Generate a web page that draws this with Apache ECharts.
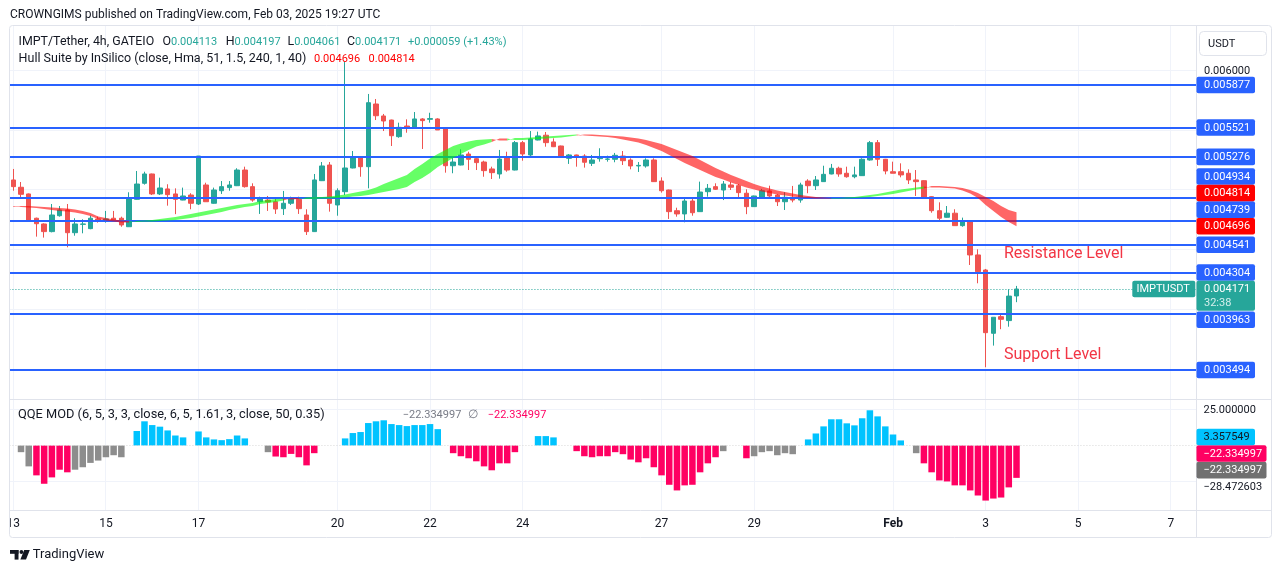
<!DOCTYPE html>
<html>
<head>
<meta charset="utf-8">
<script src="https://cdn.jsdelivr.net/npm/echarts@6.0.0/dist/echarts.min.js"></script>
<style>
  html, body { margin: 0; padding: 0; background: #fff; }
  #chart { width: 1281px; height: 573px; }
</style>
</head>
<body>
<div id="chart"></div>
<script>
// IMPT/Tether 4h candles (GATEIO), first candle Jan 13 2025 00:00 UTC
const startTime = Date.UTC(2025, 0, 13, 0, 0)

const opens = [
  0.005083, 0.005022, 0.004966, 0.004763, 0.004715, 0.004651, 0.004784, 0.004832, 0.004642, 0.004712,
  0.004676, 0.004757, 0.004742, 0.004763, 0.004763, 0.004692, 0.004921, 0.005055, 0.005133, 0.004966,
  0.005008, 0.004966, 0.004915, 0.004957, 0.004882, 0.005041, 0.004888, 0.004993, 0.005019, 0.005035,
  0.005166, 0.005027, 0.004901, 0.004915, 0.004901, 0.004843, 0.004888, 0.004921, 0.004790, 0.004651,
  0.005077, 0.005208, 0.004874, 0.004985, 0.005183, 0.005269, 0.005194, 0.005718, 0.005618, 0.005584,
  0.005445, 0.005534, 0.005515, 0.005593, 0.005590, 0.005593, 0.005515, 0.005202, 0.005208, 0.005300,
  0.005261, 0.005233, 0.005175, 0.005133, 0.005269, 0.005166, 0.005395, 0.005292, 0.005417, 0.005457,
  0.005401, 0.005367, 0.005264, 0.005292, 0.005283, 0.005222, 0.005261, 0.005256, 0.005256, 0.005283,
  0.005250, 0.005200, 0.005200, 0.005250, 0.005074, 0.004999, 0.004826, 0.004799, 0.004907, 0.004818,
  0.004985, 0.005027, 0.004999, 0.005041, 0.005035, 0.004972, 0.004860, 0.004938, 0.004991, 0.004957,
  0.004901, 0.004938, 0.004915, 0.005074, 0.005035, 0.005069, 0.005133, 0.005181, 0.005139, 0.005110,
  0.005119, 0.005250, 0.005395, 0.005256, 0.005152, 0.005152, 0.005139, 0.005083, 0.005077, 0.004943,
  0.004826, 0.004771, 0.004805, 0.004701, 0.004734, 0.004456, 0.004330, 0.003801, 0.003940, 0.003907,
  0.004113
]
const highs = [
  0.005175, 0.005066, 0.004970, 0.004768, 0.004720, 0.004882, 0.004865, 0.004882, 0.004763, 0.004754,
  0.004784, 0.004776, 0.004824, 0.004824, 0.004776, 0.004980, 0.005158, 0.005152, 0.005136, 0.005102,
  0.005047, 0.005013, 0.005019, 0.004972, 0.005283, 0.005060, 0.005019, 0.005074, 0.005074, 0.005181,
  0.005194, 0.005055, 0.004943, 0.004949, 0.004930, 0.004991, 0.004943, 0.004943, 0.004838, 0.005133,
  0.005233, 0.005233, 0.005013, 0.006069, 0.005325, 0.005272, 0.005802, 0.005760, 0.005635, 0.005587,
  0.005562, 0.005590, 0.005651, 0.005600, 0.005645, 0.005599, 0.005523, 0.005273, 0.005339, 0.005319,
  0.005283, 0.005244, 0.005194, 0.005334, 0.005319, 0.005409, 0.005409, 0.005492, 0.005487, 0.005484,
  0.005431, 0.005370, 0.005300, 0.005295, 0.005298, 0.005292, 0.005348, 0.005286, 0.005309, 0.005325,
  0.005264, 0.005233, 0.005264, 0.005264, 0.005105, 0.005002, 0.004851, 0.004938, 0.004938, 0.005069,
  0.005049, 0.005055, 0.005074, 0.005066, 0.005049, 0.005005, 0.004952, 0.005008, 0.005035, 0.004966,
  0.004980, 0.005033, 0.005060, 0.005089, 0.005116, 0.005202, 0.005217, 0.005194, 0.005194, 0.005194,
  0.005264, 0.005409, 0.005417, 0.005259, 0.005236, 0.005222, 0.005172, 0.005166, 0.005080, 0.004946,
  0.004896, 0.004865, 0.004838, 0.004768, 0.004737, 0.004503, 0.004339, 0.003935, 0.003968, 0.004169,
  0.004197
]
const lows = [
  0.004993, 0.004930, 0.004742, 0.004609, 0.004601, 0.004645, 0.004776, 0.004520, 0.004617, 0.004637,
  0.004671, 0.004726, 0.004726, 0.004734, 0.004692, 0.004690, 0.004918, 0.005044, 0.004957, 0.004957,
  0.004868, 0.004797, 0.004913, 0.004838, 0.004874, 0.004901, 0.004885, 0.004966, 0.004993, 0.005032,
  0.005019, 0.004901, 0.004799, 0.004824, 0.004799, 0.004790, 0.004874, 0.004799, 0.004623, 0.004648,
  0.005074, 0.004818, 0.004784, 0.004957, 0.005180, 0.005110, 0.005013, 0.005584, 0.005492, 0.005367,
  0.005436, 0.005478, 0.005512, 0.005342, 0.005562, 0.005501, 0.005144, 0.005139, 0.005205, 0.005166,
  0.005166, 0.005110, 0.005091, 0.005094, 0.005152, 0.005163, 0.005244, 0.005283, 0.005414, 0.005361,
  0.005358, 0.005270, 0.005217, 0.005194, 0.005186, 0.005200, 0.005236, 0.005236, 0.005231, 0.005208,
  0.005172, 0.005150, 0.005186, 0.005066, 0.004977, 0.004757, 0.004776, 0.004729, 0.004784, 0.004815,
  0.004943, 0.004999, 0.004915, 0.004999, 0.004935, 0.004797, 0.004857, 0.004924, 0.004938, 0.004865,
  0.004832, 0.004896, 0.004893, 0.004972, 0.004999, 0.005066, 0.005130, 0.005110, 0.005102, 0.005097,
  0.005116, 0.005244, 0.005200, 0.005130, 0.005139, 0.005105, 0.005049, 0.004949, 0.004924, 0.004809,
  0.004748, 0.004768, 0.004701, 0.004692, 0.004372, 0.004219, 0.003517, 0.003698, 0.003835, 0.003856,
  0.004061
]
const closes = [
  0.005027, 0.004963, 0.004748, 0.004717, 0.004651, 0.004790, 0.004832, 0.004642, 0.004715, 0.004715,
  0.004763, 0.004738, 0.004757, 0.004742, 0.004707, 0.004924, 0.005049, 0.005133, 0.004966, 0.005016,
  0.004960, 0.004921, 0.004949, 0.004888, 0.005283, 0.004901, 0.004999, 0.005027, 0.005041, 0.005166,
  0.005027, 0.004915, 0.004930, 0.004899, 0.004840, 0.004888, 0.004930, 0.004843, 0.004651, 0.005083,
  0.005200, 0.004888, 0.004993, 0.005183, 0.005269, 0.005194, 0.005729, 0.005620, 0.005576, 0.005453,
  0.005523, 0.005515, 0.005593, 0.005579, 0.005596, 0.005501, 0.005202, 0.005233, 0.005292, 0.005256,
  0.005228, 0.005161, 0.005144, 0.005258, 0.005166, 0.005395, 0.005300, 0.005426, 0.005451, 0.005395,
  0.005361, 0.005273, 0.005292, 0.005273, 0.005231, 0.005250, 0.005273, 0.005258, 0.005289, 0.005244,
  0.005200, 0.005205, 0.005250, 0.005069, 0.004993, 0.004818, 0.004799, 0.004907, 0.004809, 0.004982,
  0.005013, 0.005005, 0.005049, 0.005022, 0.004977, 0.004860, 0.004949, 0.004993, 0.004949, 0.004901,
  0.004938, 0.004915, 0.005041, 0.005035, 0.005083, 0.005130, 0.005181, 0.005133, 0.005110, 0.005125,
  0.005256, 0.005395, 0.005256, 0.005158, 0.005139, 0.005125, 0.005083, 0.005069, 0.004930, 0.004826,
  0.004763, 0.004805, 0.004701, 0.004734, 0.004456, 0.004316, 0.003806, 0.003935, 0.003918, 0.004112,
  0.004171
]

// Hull Suite (51, Hma): the hull line and its lagged copy, band between them
const hull = [
  0.004865, 0.004857, 0.004853, 0.004849, 0.004840, 0.004832, 0.004824, 0.004819, 0.004811, 0.004799,
  0.004782, 0.004757, 0.004744, 0.004736, 0.004728, 0.004728, 0.004740, 0.004744, 0.004748, 0.004757,
  0.004765, 0.004773, 0.004786, 0.004799, 0.004811, 0.004824, 0.004836, 0.004849, 0.004861, 0.004874,
  0.004882, 0.004891, 0.004907, 0.004916, 0.004924, 0.004928, 0.004920, 0.004924, 0.004937, 0.004941,
  0.004941, 0.004945, 0.004953, 0.004962, 0.004974, 0.004987, 0.004999, 0.005020, 0.005049, 0.005074,
  0.005100, 0.005125, 0.005175, 0.005217, 0.005262, 0.005300, 0.005334, 0.005367, 0.005388, 0.005405,
  0.005417, 0.005421, 0.005426, 0.005413, 0.005413, 0.005434, 0.005434, 0.005438, 0.005442, 0.005446,
  0.005451, 0.005455, 0.005459, 0.005463, 0.005455, 0.005451, 0.005446, 0.005442, 0.005434, 0.005421,
  0.005409, 0.005396, 0.005375, 0.005350, 0.005325, 0.005292, 0.005258, 0.005225, 0.005196, 0.005166,
  0.005137, 0.005108, 0.005087, 0.005062, 0.005041, 0.005020, 0.005003, 0.004987, 0.004974, 0.004962,
  0.004953, 0.004945, 0.004937, 0.004932, 0.004928, 0.004928, 0.004928, 0.004932, 0.004937, 0.004941,
  0.004949, 0.004957, 0.004966, 0.004978, 0.004991, 0.005003, 0.005012, 0.005020, 0.005028, 0.005020,
  0.005020, 0.005016, 0.005012, 0.004995, 0.004970, 0.004932, 0.004874, 0.004824, 0.004773, 0.004732,
  0.004696
]
const hullShift = [
  0.004857, 0.004865, 0.004865, 0.004861, 0.004857, 0.004853, 0.004849, 0.004845, 0.004836, 0.004824,
  0.004807, 0.004778, 0.004765, 0.004753, 0.004744, 0.004740, 0.004732, 0.004736, 0.004736, 0.004740,
  0.004744, 0.004748, 0.004757, 0.004765, 0.004778, 0.004790, 0.004803, 0.004815, 0.004832, 0.004845,
  0.004857, 0.004865, 0.004882, 0.004891, 0.004899, 0.004911, 0.004932, 0.004932, 0.004924, 0.004924,
  0.004928, 0.004928, 0.004932, 0.004937, 0.004945, 0.004949, 0.004957, 0.004970, 0.004982, 0.004995,
  0.005008, 0.005024, 0.005066, 0.005100, 0.005141, 0.005191, 0.005229, 0.005267, 0.005300, 0.005334,
  0.005363, 0.005380, 0.005400, 0.005430, 0.005430, 0.005417, 0.005417, 0.005421, 0.005426, 0.005430,
  0.005434, 0.005438, 0.005446, 0.005455, 0.005463, 0.005463, 0.005459, 0.005455, 0.005451, 0.005446,
  0.005438, 0.005430, 0.005417, 0.005400, 0.005384, 0.005359, 0.005334, 0.005309, 0.005283, 0.005250,
  0.005217, 0.005183, 0.005154, 0.005125, 0.005100, 0.005074, 0.005049, 0.005028, 0.005012, 0.004995,
  0.004982, 0.004970, 0.004957, 0.004949, 0.004941, 0.004937, 0.004932, 0.004928, 0.004928, 0.004932,
  0.004937, 0.004941, 0.004949, 0.004957, 0.004966, 0.004978, 0.004991, 0.005003, 0.005012, 0.005033,
  0.005033, 0.005028, 0.005024, 0.005016, 0.004999, 0.004974, 0.004941, 0.004907, 0.004865, 0.004832,
  0.004814
]

// QQE MOD histogram, and its trend state (1 up, -1 down, 0 neutral)
const qqe = [
  null, -4.6, -14.4, -20.6, -26.4, -22.0, -16.7, -18.5, -16.7, -15.0,
  -12.0, -10.4, -8.1, -6.7, -8.1, 0, 10.0, 16.7, 14.1, 13.0,
  10.4, 6.9, 5.6, 0, 9.7, 5.6, 4.2, 3.7, 4.4, 6.9,
  4.9, 0, 0, -4.6, -7.6, -8.1, -5.8, -8.1, -13.7, -5.3,
  0, 0, 0, 4.9, 8.6, 9.3, 15.5, 16.7, 17.4, 14.8,
  14.1, 13.4, 14.1, 14.1, 14.8, 11.3, 0, -5.3, -7.4, -8.8,
  -10.9, -14.4, -17.1, -12.3, -12.3, -4.6, 0, 0, 6.5, 6.5,
  5.6, 0, 0, -3.9, -7.4, -8.1, -7.4, -7.4, -4.6, -6.0,
  -9.7, -11.6, -8.8, -15.0, -20.6, -27.1, -31.0, -27.5, -27.1, -18.5,
  -12.3, -8.1, -3.9, 0, 0, -8.8, -7.4, -4.6, -3.9, -6.7,
  -5.3, -6.0, 0, 4.2, 8.3, 13.2, 18.1, 18.1, 15.3, 13.9,
  18.8, 24.3, 20.1, 13.2, 7.6, 3.5, 0, -5.3, -12.3, -18.5,
  -24.1, -24.8, -27.5, -27.5, -31.0, -34.5, -38.0, -36.6, -35.9, -28.9,
  -22.334997
]
const qqeTrend = [
  0, 0, 0, -1, -1, -1, -1, -1, 0, 0,
  0, 0, 0, 0, 0, 0, 1, 1, 1, 1,
  1, 1, 1, 0, 1, 1, 1, 1, 1, 1,
  1, 0, 0, 0, -1, -1, -1, -1, -1, -1,
  0, 0, 0, 1, 1, 1, 1, 1, 1, 1,
  1, 1, 1, 1, 1, 1, 0, -1, -1, -1,
  -1, -1, -1, -1, -1, -1, 0, 0, 1, 1,
  1, 0, 0, -1, -1, -1, -1, -1, -1, -1,
  -1, -1, -1, -1, -1, -1, -1, -1, -1, -1,
  -1, -1, 0, 0, 0, -1, 0, 0, 0, 0,
  0, 0, 0, 1, 1, 1, 1, 1, 1, 1,
  1, 1, 1, 1, 1, 1, 0, 0, -1, -1,
  -1, -1, -1, -1, -1, -1, -1, -1, -1, -1,
  -1
]
const qqeLine = 3.357549
const qqeGreyLast = -22.334997
const qqeLower = -28.472603

// horizontal support / resistance lines drawn on the chart
const levels = [0.005877, 0.005521, 0.005276, 0.004934, 0.004739, 0.004541, 0.004304, 0.003963, 0.003494]
const priceTicks = [0.0035, 0.004, 0.0045, 0.005, 0.0055, 0.006]
const qqeTicks = [25, -25]
const countdown = '32:38'
const dayTicks = ['01-13', '01-15', '01-17', '01-20', '01-22', '01-24', '01-27', '01-29', '02-01', '02-03', '02-05', '02-07']
const dayLabels = ['13', '15', '17', '20', '22', '24', '27', '29', 'Feb', '3', '5', '7']

const FONT = 'Roboto, sans-serif'
const UP = '#26a69a'
const DOWN = '#ef5350'
const LEVEL_BLUE = '#2962ff'
const GRID_COLOR = '#f0f3fa'
const BORDER = '#e0e3eb'
const TEXT = '#131722'

const CANDLE_STEP = 7.717
const SLOTS = 154
const GRID_LEFT = 9.44

const pad = n => String(n).padStart(2, '0')
const times = []
for (let k = 0; k < SLOTS; k++) {
  const d = new Date(startTime + k * 4 * 3600 * 1000)
  times.push(pad(d.getUTCMonth() + 1) + '-' + pad(d.getUTCDate()) + ' ' + pad(d.getUTCHours()))
}
const dayCats = dayTicks.map(t => t + ' 00')
const dayIdx = dayCats.map(c => times.indexOf(c))

const candles = opens.map((o, i) => [o, closes[i], lows[i], highs[i]])

// runs of the hull band with one colour each
const bandRuns = []
for (let i = 0; i < hull.length - 1; i++) {
  const up = hull[i + 1] >= hullShift[i + 1]
  const last = bandRuns[bandRuns.length - 1]
  if (last && last.up === up) {
    last.end = i + 1
  } else {
    bandRuns.push({ start: i, end: i + 1, up: up })
  }
}

const qqeColors = { '1': '#00c3ff', '-1': '#ff0062', '0': '#8d8d8d' }
const qqeBars = qqe.map((v, i) => v === null ? '-' : {
  value: v,
  itemStyle: { color: qqeColors[String(qqeTrend[i])] }
})

// full-width horizontal lines and full-height vertical lines, placed through the axes
// item: [kind, value, styleIndex]  kind 0 = horizontal at price value, 1 = vertical at category index
function ruleSeries (name, axisIndex, z, items, styles) {
  return {
    name: name,
    type: 'custom',
    xAxisIndex: axisIndex,
    yAxisIndex: axisIndex,
    z: z,
    silent: true,
    clip: false,
    data: items,
    encode: { x: -1, y: -1 },
    renderItem: (params, api) => {
      const cs = params.coordSys
      const st = styles[api.value(2)]
      const w = st.width
      const snap = p => (w % 2 ? Math.floor(p) + 0.5 : Math.round(p))
      let shape
      if (api.value(0) === 0) {
        const y = snap(api.coord([0, api.value(1)])[1])
        shape = { x1: cs.x, y1: y, x2: cs.x + cs.width, y2: y }
      } else {
        const x = snap(api.coord([api.value(1), 0])[0])
        shape = { x1: x, y1: cs.y, x2: x, y2: cs.y + cs.height }
      }
      return {
        type: 'line',
        shape: shape,
        style: { stroke: st.color, lineWidth: w, lineDash: st.dash || null }
      }
    }
  }
}
const gridRule = { color: GRID_COLOR, width: 1 }
const levelRule = { color: LEVEL_BLUE, width: 2 }
const lastRule = { color: UP, width: 1, dash: [1, 2] }
const zeroRule = { color: '#d8d8d8', width: 1, dash: [1, 2] }

const chart = echarts.init(document.getElementById('chart'))

chart.setOption({
  animation: false,
  backgroundColor: '#ffffff',
  grid: [
    { left: GRID_LEFT, top: 26, width: SLOTS * CANDLE_STEP, height: 373 },
    { left: GRID_LEFT, top: 400, width: SLOTS * CANDLE_STEP, height: 110 }
  ],
  xAxis: [
    {
      type: 'category',
      gridIndex: 0,
      data: times,
      boundaryGap: true,
      axisLine: { show: false },
      axisTick: { show: false },
      axisLabel: { show: false },
      splitLine: { show: false }
    },
    {
      type: 'category',
      gridIndex: 1,
      data: times,
      boundaryGap: true,
      axisLine: { show: false },
      axisTick: { show: false },
      splitLine: { show: false },
      axisLabel: {
        show: true,
        interval: (index, value) => dayCats.indexOf(value) >= 0,
        formatter: value => {
          const label = dayLabels[dayCats.indexOf(value)]
          return label === 'Feb' ? '{b|Feb}' : label
        },
        color: TEXT,
        fontSize: 12,
        fontFamily: FONT,
        margin: 8,
        rich: { b: { fontWeight: 'bold', fontSize: 12, fontFamily: FONT, color: TEXT } }
      }
    }
  ],
  yAxis: [
    { type: 'value', gridIndex: 0, min: 0.0032515, max: 0.0063703, show: false },
    { type: 'value', gridIndex: 1, min: -44.5, max: 31.4, show: false }
  ],
  series: [
    // light chart grid, under the candles
    ruleSeries('grid', 0, 0,
      dayIdx.map(i => [1, i, 0]).concat(priceTicks.map(v => [0, v, 0])), [gridRule]),
    {
      name: 'IMPTUSDT',
      type: 'candlestick',
      xAxisIndex: 0,
      yAxisIndex: 0,
      data: candles,
      barWidth: 5,
      z: 2,
      itemStyle: {
        color: UP,
        color0: DOWN,
        borderColor: UP,
        borderColor0: DOWN,
        borderWidth: 1
      }
    },
    // support / resistance lines and the last-price line
    ruleSeries('levels', 0, 3,
      levels.map(v => [0, v, 0]).concat([[0, closes[closes.length - 1], 1]]), [levelRule, lastRule]),
    {
      name: 'Hull Suite',
      type: 'custom',
      xAxisIndex: 0,
      yAxisIndex: 0,
      z: 4,
      clip: true,
      data: bandRuns.map(r => [r.start, hull[r.start]]),
      encode: { x: 0, y: 1 },
      renderItem: (params, api) => {
        const run = bandRuns[params.dataIndex]
        const points = []
        for (let i = run.start; i <= run.end; i++) points.push(api.coord([i, hull[i]]))
        for (let i = run.end; i >= run.start; i--) points.push(api.coord([i, hullShift[i]]))
        return {
          type: 'polygon',
          shape: { points: points },
          style: { fill: run.up ? 'rgba(0,255,0,0.6)' : 'rgba(255,0,0,0.6)' }
        }
      }
    },
    ruleSeries('qqe grid', 1, 0,
      dayIdx.map(i => [1, i, 0]).concat(qqeTicks.map(v => [0, v, 0])), [gridRule]),
    {
      name: 'QQE MOD',
      type: 'bar',
      xAxisIndex: 1,
      yAxisIndex: 1,
      data: qqeBars,
      barWidth: 6.5,
      z: 2
    },
    ruleSeries('qqe zero', 1, 3, [[0, 0, 0]], [zeroRule])
  ]
})

// ---- overlay: frame, legends, price-axis labels ----
const py = v => chart.convertToPixel({ yAxisIndex: 0 }, v)
const qy = v => chart.convertToPixel({ yAxisIndex: 1 }, v)
const fmt = v => (v < 0 ? '\u2212' : '') + Math.abs(v).toFixed(6)

const els = []
function text (x, y, str, color, size, extra) {
  els.push(Object.assign({
    type: 'text',
    z: 120,
    silent: true,
    style: {
      text: str,
      x: x,
      y: y,
      fill: color,
      font: (size || 12) + 'px ' + FONT,
      textAlign: 'left',
      textVerticalAlign: 'middle'
    }
  }, extra || {}))
}
function rect (x, y, w, h, fill, r, stroke, z) {
  els.push({
    type: 'rect',
    z: z || 110,
    silent: true,
    shape: { x: x, y: y, width: w, height: h, r: r || 0 },
    style: stroke ? { fill: fill, stroke: stroke, lineWidth: 1 } : { fill: fill }
  })
}
function line (x1, y1, x2, y2, color) {
  els.push({ type: 'line', z: 115, silent: true, shape: { x1: x1, y1: y1, x2: x2, y2: y2 }, style: { stroke: color, lineWidth: 1 } })
}

// covers outside the panes
rect(1197, 26, 74, 511, '#ffffff', 0, null, 100)
rect(0, 26, 10, 511, '#ffffff', 0, null, 100)
// frame and separators
rect(9.5, 25.5, 1262, 512, 'none', 3, BORDER, 115)
line(9.5, 399.5, 1271.5, 399.5, BORDER)
line(9.5, 510.5, 1271.5, 510.5, BORDER)
line(1196.5, 25.5, 1196.5, 537.5, BORDER)

// header
text(10, 15, 'CROWNGIMS published on TradingView.com, Feb 03, 2025 19:27 UTC', TEXT, 12)

// main pane legend
const n = closes.length - 1
const chg = closes[n] - closes[n - 1]
text(18.6, 42, 'IMPT/Tether, 4h, GATEIO', TEXT, 12.4)
const ohlc = [['O', opens[n], 162.5], ['H', highs[n], 225.7], ['L', lows[n], 287.5], ['C', closes[n], 347]]
ohlc.forEach(p => {
  els.push({
    type: 'text',
    z: 120,
    silent: true,
    style: {
      text: '{k|' + p[0] + '}{v|' + p[1].toFixed(6) + '}',
      x: p[2],
      y: 42,
      textVerticalAlign: 'middle',
      rich: {
        k: { fill: TEXT, font: '12.4px ' + FONT },
        v: { fill: UP, font: '11px ' + FONT }
      }
    }
  })
})
text(408, 42, '+' + chg.toFixed(6) + ' (+' + (chg / closes[n - 1] * 100).toFixed(2) + '%)', UP, 11)
text(18.6, 59, 'Hull Suite by InSilico (close, Hma, 51, 1.5, 240, 1, 40)', TEXT, 12.5)
text(314, 59, hull[n].toFixed(6), '#ff0000', 11)
text(368.6, 59, hullShift[n].toFixed(6), '#ff0000', 11)

// QQE legend
text(18, 415, 'QQE MOD (6, 5, 3, 3, close, 6, 5, 1.61, 3, close, 50, 0.35)', TEXT, 12.8)
text(402.7, 415, fmt(qqeGreyLast), '#787b86', 11)
text(468, 415, '\u2205', '#787b86', 12)
text(487.7, 415, fmt(qqe[n]), '#ff0062', 11)

// annotations
text(1004, 253.5, 'Resistance Level', '#f23645', 16)
text(1004, 354.5, 'Support Level', '#f23645', 16)

// USDT box
rect(1199.5, 31.5, 67, 24, '#ffffff', 4, BORDER, 120)
text(1208, 44, 'USDT', TEXT, 11, { z: 125 })

// price labels, stacked around the last-price label
const LH = 16.6
const lastY = py(closes[n])
const lastTop = lastY - LH / 2
const lastBottom = lastY + 22.4
const labels = levels.map(v => ({ v: v, bg: LEVEL_BLUE }))
  .concat([{ v: hull[n], bg: '#ff0000' }, { v: hullShift[n], bg: '#ff0000' }])
labels.forEach(l => { l.y0 = py(l.v) })
const above = labels.filter(l => l.y0 < lastY).sort((a, b) => b.y0 - a.y0)
const below = labels.filter(l => l.y0 >= lastY).sort((a, b) => a.y0 - b.y0)
let limit = lastTop
above.forEach(l => { l.y = Math.min(l.y0, limit - LH / 2); limit = l.y - LH / 2 })
limit = lastBottom
below.forEach(l => { l.y = Math.max(l.y0, limit + LH / 2); limit = l.y + LH / 2 })

labels.forEach(l => {
  rect(1196.5, l.y - LH / 2, 58.5, LH, l.bg, 2, null, 118)
  text(1204, l.y + 0.5, l.v.toFixed(6), '#ffffff', 11, { z: 125 })
})
// last price with countdown, and the symbol tag
rect(1196.5, lastTop, 58.5, 30, UP, 2, null, 118)
text(1204, lastY + 0.5, closes[n].toFixed(6), '#ffffff', 11, { z: 125 })
text(1204, lastY + 14, countdown, '#d4efec', 11, { z: 125 })
rect(1132.3, lastTop, 63, LH, UP, 2, null, 118)
text(1136.5, lastY + 0.5, 'IMPTUSDT', '#ffffff', 11, { z: 125 })

// price ticks that are not hidden by a label
priceTicks.forEach(t => {
  const y = py(t)
  const hidden = labels.some(l => Math.abs(l.y - y) < 14) || (y > lastTop - 7 && y < lastBottom + 7)
  if (!hidden) text(1204, y + 0.5, t.toFixed(6), TEXT, 11, { z: 125 })
})

// QQE axis labels, stacked from the bottom up
const qLabels = [
  { v: qqeLower, bg: null, fg: TEXT },
  { v: qqeGreyLast, bg: '#707070', fg: '#ffffff' },
  { v: qqe[n], bg: '#ff0062', fg: '#ffffff' },
  { v: qqeLine, bg: '#00c3ff', fg: TEXT }
]
let qLimit = Infinity
qLabels.forEach(l => {
  l.y = Math.min(qy(l.v), qLimit - LH)
  qLimit = l.y
  const s = fmt(l.v)
  if (l.bg) rect(1196.5, l.y - LH / 2, s.length > 8 ? 70 : 58.5, LH, l.bg, 2, null, 118)
  text(1203.5, l.y + 0.5, s, l.fg, 11, { z: 125 })
})
qqeTicks.forEach(t => {
  const y = qy(t)
  if (!qLabels.some(l => Math.abs(l.y - y) < 14)) text(1203.5, y + 1, t.toFixed(6), TEXT, 11, { z: 125 })
})

// TradingView logo
els.push({ type: 'rect', z: 120, silent: true, shape: { x: 10, y: 550, width: 8.5, height: 3.8 }, style: { fill: '#131722' } })
els.push({ type: 'rect', z: 120, silent: true, shape: { x: 14.6, y: 550, width: 3.9, height: 9.6 }, style: { fill: '#131722' } })
els.push({ type: 'circle', z: 120, silent: true, shape: { cx: 21.4, cy: 552, r: 1.9 }, style: { fill: '#131722' } })
els.push({ type: 'polygon', z: 120, silent: true, shape: { points: [[24.2, 550], [29.8, 550], [26, 559.6], [20.4, 559.6]] }, style: { fill: '#131722' } })
text(32.7, 555, 'TradingView', TEXT, 13)

chart.setOption({ graphic: { elements: els } })
</script>
</body>
</html>
